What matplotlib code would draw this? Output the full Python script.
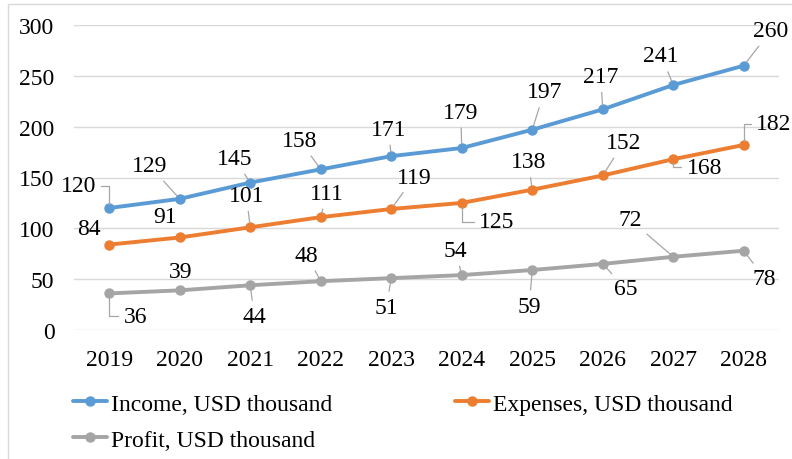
import matplotlib.pyplot as plt
from matplotlib.patches import Rectangle

years = ['2019', '2020', '2021', '2022', '2023', '2024', '2025', '2026', '2027', '2028']
income = [120, 129, 145, 158, 171, 179, 197, 217, 241, 260]
expenses = [84, 91, 101, 111, 119, 125, 138, 152, 168, 182]
profit = [36, 39, 44, 48, 51, 54, 59, 65, 72, 78]

series_names = ['Income, USD thousand', 'Expenses, USD thousand', 'Profit, USD thousand']
colors = ['#5B9BD5', '#ED7D31', '#A5A5A5']

# data label placement: pixel offset from the point, leader type (n=none, s=straight, b=bracket)
income_offsets = [(-31, 22), (-30, 33), (-16, 24), (-21, 29), (-3, 27),
                  (-1, 36), (12, 38), (-2, 33), (-12, 29), (27, 35)]
income_leaders = ['b', 's', 's', 's', 's', 's', 's', 's', 's', 's']
expenses_offsets = [(-20, 16), (-15, 21), (-4, 32), (6, 24), (23, 32),
                    (35, -19), (-4, 28), (21, 33), (31, -8), (30, 21)]
expenses_leaders = ['n', 'n', 's', 's', 's', 'b', 's', 's', 'b', 'b']
profit_offsets = [(26, -23), (1, 19), (4, -31), (-14, 26), (-5, -29),
                  (-6, 25), (-3, -36), (23, -25), (-43, 37), (21, -28)]
profit_leaders = ['b', 'n', 's', 's', 's', 's', 's', 's', 's', 's']

plt.rcParams['font.family'] = ['Liberation Serif', 'DejaVu Serif']
FS = 17

fig = plt.figure(figsize=(7.92, 4.60), dpi=100)
ax = fig.add_axes([74 / 792, 1 - 331 / 460, 705 / 792, 305 / 460])

x = list(range(len(years)))
all_series = [(income, income_offsets, income_leaders),
              (expenses, expenses_offsets, expenses_leaders),
              (profit, profit_offsets, profit_leaders)]

handles = []
for (vals, offs, leads), name, c in zip(all_series, series_names, colors):
    ln, = ax.plot(x, vals, color=c, lw=2.8, marker='o', ms=6.5, label=name,
                  solid_capstyle='round', zorder=3)
    handles.append(ln)
    for i, v in enumerate(vals):
        dx, dy = offs[i]
        kind = leads[i]
        if kind == 'n':
            arrow = None
        else:
            arrow = dict(arrowstyle='-', color='#A6A6A6', lw=0.9, shrinkA=2, shrinkB=3,
                         connectionstyle='angle,angleA=0,angleB=90,rad=0' if kind == 'b' else 'arc3')
        ax.annotate(str(v), xy=(i, v), xytext=(dx, dy), textcoords='offset pixels',
                    ha='center', va='center', fontsize=FS, color='black',
                    arrowprops=arrow, zorder=4, annotation_clip=False)

ax.set_xlim(-0.5, len(years) - 0.5)
ax.set_ylim(0, 300)
ax.set_yticks(range(0, 301, 50))
ax.set_xticks(x)
ax.set_xticklabels(years)
ax.tick_params(axis='both', length=0, labelsize=FS, colors='black')
ax.tick_params(axis='y', pad=14)
ax.tick_params(axis='x', pad=14)
ax.grid(axis='y', color='#D9D9D9', lw=1)
ax.set_axisbelow(True)
for s in ax.spines.values():
    s.set_visible(False)

# legend: two columns placed separately
leg_kw = dict(frameon=False, fontsize=FS, loc='upper left', borderpad=0, borderaxespad=0,
              handlelength=1.45, handletextpad=0.15, labelspacing=0.62,
              bbox_transform=fig.transFigure)
fig.legend([handles[0], handles[2]], [series_names[0], series_names[2]],
           bbox_to_anchor=(73 / 792, 1 - 394 / 460), **leg_kw)
fig.legend([handles[1]], [series_names[1]],
           bbox_to_anchor=(455 / 792, 1 - 394 / 460), **leg_kw)

fig.patches.append(Rectangle((7.5 / 792, -0.1), 1.1, 1 - 4.5 / 460 + 0.1,
                             transform=fig.transFigure, fill=False,
                             ec='#D9D9D9', lw=1))

fig.savefig('out.png', dpi=100)
